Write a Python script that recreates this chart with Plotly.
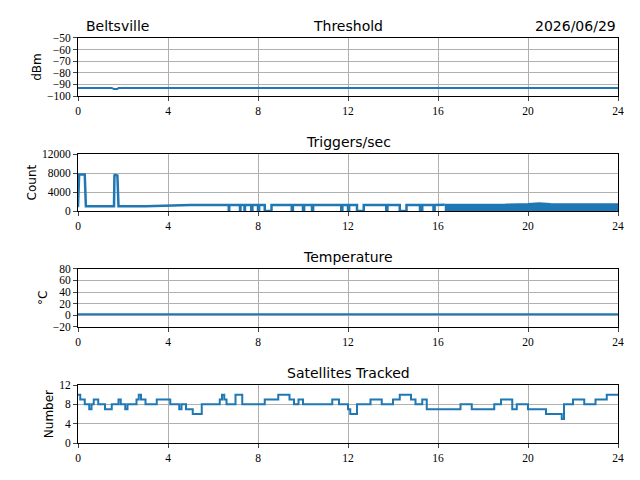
import plotly.graph_objects as go

hours_ticks = [0, 4, 8, 12, 16, 20, 24]

thr_t = [0, 1.5, 1.6, 1.75, 1.8, 6.5, 10.0, 14.0, 18.0, 24]
thr_v = [-93, -93, -94, -94, -93, -93, -93, -93, -93, -93]

trig_t = [0, 0.02, 0.05, 0.3, 0.32, 0.35, 1.6, 1.62, 1.65, 1.75, 1.77, 1.8, 3.0, 4.0, 5.0, 6.0, 6.7, 6.7, 6.72, 6.72,
          7.2, 7.2, 7.22, 7.22, 7.4, 7.4, 7.42, 7.42, 7.7, 7.7, 7.75, 7.75, 8.0, 8.0, 8.05, 8.05, 8.3, 8.3, 8.6, 8.6,
          9.5, 9.5, 9.55, 9.55, 10.0, 10.0, 10.05, 10.05, 10.4, 10.4, 10.45, 10.45, 11.7, 11.7, 11.75, 11.75,
          12.0, 12.0, 12.05, 12.05, 12.4, 12.4, 12.7, 12.7, 13.7, 13.7, 13.75, 13.75, 14.3, 14.3, 14.6, 14.6,
          15.2, 15.2, 15.3, 15.3, 15.8, 15.8, 15.85, 15.85, 16.3]
trig_v = [800, 7600, 7700, 7700, 1000, 1000, 1000, 7700, 7600, 7500, 1000, 1000, 1000, 1200, 1250, 1250, 1250, 0, 0, 1250,
          1250, 0, 0, 1250, 1250, 0, 0, 1250, 1250, 0, 0, 1250, 1250, 0, 0, 1250, 1250, 0, 0, 1250,
          1250, 0, 0, 1250, 1250, 0, 0, 1250, 1250, 0, 0, 1250, 1250, 0, 0, 1250,
          1250, 0, 0, 1250, 1250, 0, 0, 1250, 1250, 0, 0, 1250, 1250, 0, 0, 1250,
          1250, 0, 0, 1250, 1250, 0, 0, 1250, 1300]
dense_t = [16.3, 17.0, 18.0, 19.0, 20.0, 20.5, 21.0, 22.0, 23.0, 24.0]
dense_v = [1300, 1300, 1300, 1350, 1500, 1650, 1500, 1450, 1400, 1400]

temp_t = [0, 24]
temp_v = [2, 2]

sat_t = [0, 0.1, 0.3, 0.5, 0.6, 0.7, 0.9, 1.2, 1.5, 1.8, 1.9, 2.1, 2.2, 2.4, 2.6, 2.7, 2.8, 3.0, 3.5, 3.9, 4.1, 4.5, 4.6,
         4.8, 5.1, 5.5, 6.3, 6.4, 6.5, 6.6, 7.0, 7.3, 8.3, 8.9, 9.4, 9.6, 9.8, 10.0, 10.5, 11.3, 11.6, 12.0, 12.1, 12.4,
         13.0, 13.5, 14.0, 14.3, 14.8, 15.0, 15.3, 15.5, 16.0, 17.0, 17.5, 18.5, 18.8, 19.3, 19.5, 20.0, 20.8, 21.5,
         21.6, 22.0, 22.5, 23.0, 23.5, 24.0]
sat_v = [10, 9, 8, 7, 8, 9, 8, 7, 8, 9, 8, 7, 8, 8, 9, 10, 9, 8, 9, 9, 8, 7, 8,
         7, 6, 8, 9, 10, 9, 8, 10, 8, 9, 10, 9, 8, 9, 8, 8, 9, 8, 7, 6, 8,
         9, 8, 9, 10, 9, 8, 9, 7, 7, 8, 7, 8, 9, 7, 8, 7, 6, 5,
         8, 9, 8, 9, 10, 10]

blue = "#1f77b4"
fig = go.Figure()
fig.add_trace(go.Scatter(x=thr_t, y=thr_v, mode="lines", line=dict(color=blue, width=2), xaxis="x", yaxis="y"))
fig.add_trace(go.Scatter(x=trig_t, y=trig_v, mode="lines", line=dict(color=blue, width=2.5), xaxis="x2", yaxis="y2"))
fig.add_trace(go.Scatter(x=dense_t, y=dense_v, mode="lines", fill="tozeroy", fillcolor=blue,
                         line=dict(color=blue, width=2), xaxis="x2", yaxis="y2"))
fig.add_trace(go.Scatter(x=temp_t, y=temp_v, mode="lines", line=dict(color=blue, width=2), xaxis="x3", yaxis="y3"))
fig.add_trace(go.Scatter(x=sat_t, y=sat_v, mode="lines", line=dict(color=blue, width=2, shape="hv"), xaxis="x4", yaxis="y4"))

off = 7 / 480
domains = [[0.802 + off, 0.923 + off], [0.5625 + off, 0.681 + off], [0.321 + off, 0.442 + off], [0.079 + off, 0.2 + off]]
yinfo = [([-100, -50], [-100, -90, -80, -70, -60, -50], "dBm"),
         ([0, 12000], [0, 4000, 8000, 12000], "Count"),
         ([-20, 80], [-20, 0, 20, 40, 60, 80], "°C"),
         ([0, 12], [0, 4, 8, 12], "Number")]
xdom = [70 / 640, 610 / 640]
tickfont = dict(family="Liberation Serif", size=11.5, color="black")
ax_common = dict(showline=True, linecolor="black", linewidth=1, mirror=True, ticks="outside", ticklen=4,
                 showgrid=True, gridcolor="#b0b0b0", zeroline=False, tickfont=tickfont, automargin=False)
lay = {}
for i, (d, (rng, tv, lbl)) in enumerate(zip(domains, yinfo)):
    s = "" if i == 0 else str(i + 1)
    lay["xaxis" + s] = dict(domain=xdom, range=[0, 24], tickvals=hours_ticks,
                            anchor="y" + s, **ax_common)
    lay["yaxis" + s] = dict(domain=d, range=rng, tickvals=tv, tickformat="d", anchor="x" + s,
                            title=dict(text=lbl, font=dict(family="DejaVu Sans", size=12, color="black"), standoff=2),
                            **ax_common)

titles = [("Threshold", domains[0][1]), ("Triggers/sec", domains[1][1]), ("Temperature", domains[2][1]),
          ("Satellites Tracked", domains[3][1])]
xc = (xdom[0] + xdom[1]) / 2
ann = [dict(text=t, x=xc, y=y, xref="paper", yref="paper", xanchor="center", yanchor="bottom", yshift=2,
            showarrow=False, font=dict(family="DejaVu Sans", size=14, color="black")) for t, y in titles]
ann.append(dict(text="Beltsville", x=xdom[0] + 0.01, y=domains[0][1], xref="paper", yref="paper", xanchor="left",
                yanchor="bottom", yshift=2, showarrow=False, font=dict(family="DejaVu Sans", size=14, color="black")))
ann.append(dict(text="2026/06/29", x=xdom[1], y=domains[0][1], xref="paper", yref="paper", xanchor="right",
                yanchor="bottom", yshift=2, showarrow=False, font=dict(family="DejaVu Sans", size=14, color="black")))

fig.update_layout(width=640, height=480, margin=dict(l=0, r=0, t=0, b=0, autoexpand=False), showlegend=False,
                  plot_bgcolor="white", paper_bgcolor="white", annotations=ann, **lay)
fig.write_html("out.html")
